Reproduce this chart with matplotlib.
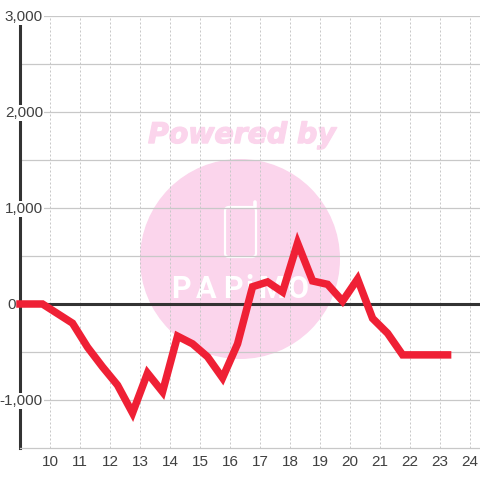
import matplotlib
matplotlib.use('AGG')
import matplotlib.pyplot as plt
import matplotlib.patheffects as pe
from matplotlib.patches import Circle, FancyBboxPatch

hours = [9.0, 9.75, 10.25, 10.75, 11.25, 11.75, 12.25, 12.75, 13.25, 13.75,
         14.25, 14.75, 15.25, 15.75, 16.25, 16.75, 17.25, 17.75, 18.25, 18.75,
         19.25, 19.75, 20.25, 20.75, 21.25, 21.75, 22.25, 22.75, 23.25]
values = [0, 0, -100, -200, -450, -655, -845, -1135, -720, -915,
          -335, -415, -550, -770, -415, 180, 230, 125, 635, 240,
          205, 30, 260, -150, -305, -530, -530, -530, -530]
x_ticks = [10, 11, 12, 13, 14, 15, 16, 17, 18, 19, 20, 21, 22, 23, 24]
y_major = [-1000, 0, 1000, 2000, 3000]
y_minor = [-500, 500, 1500, 2500]
y_labels = ['-1,000', '0', '1,000', '2,000', '3,000']
logo_letters = ['P', 'A', 'P', 'i', 'M', 'O']

plt.rcParams['font.family'] = ['Liberation Sans', 'DejaVu Sans']
fig = plt.figure(figsize=(4.8, 4.8), dpi=100)

# watermark sits in its own full size axes, in pixel units
wm = fig.add_axes([0, 0, 1, 1], zorder=0)
wm.set_xlim(0, 480)
wm.set_ylim(480, 0)
wm.axis('off')
pink = '#fbd5ec'
wm.add_patch(Circle((240, 259), 100, color=pink, lw=0))
wm.text(242, 135, 'Powered by', color=pink, fontsize=20.4, fontweight='bold',
        fontstyle='italic', family='DejaVu Sans', ha='center', va='center',
        path_effects=[pe.withStroke(linewidth=1, foreground=pink)])
wm.add_patch(FancyBboxPatch((225, 207), 31, 50, boxstyle='round,pad=0,rounding_size=4',
                            fc='none', ec='white', lw=1.6))
wm.plot([255, 255], [207, 202], color='white', lw=2.6, solid_capstyle='round')
for letter, px in zip(logo_letters, [181, 206, 233, 249, 271, 298]):
    wm.text(px, 289, letter, color='white', fontsize=22, fontweight='bold',
            family=['Liberation Sans Narrow', 'Roboto'], ha='center', va='center')

ax = fig.add_axes([20 / 480, 32 / 480, 460 / 480, 432 / 480], zorder=1)
ax.patch.set_alpha(0)
ax.set_xlim(9.0, 24.33)
ax.set_ylim(-1500, 3000)

ax.set_xticks(x_ticks)
ax.set_yticks(y_major)
ax.set_yticks(y_minor, minor=True)
ax.set_yticklabels([])
ax.tick_params(axis='both', which='both', length=0)
ax.tick_params(axis='x', labelsize=11, labelcolor='#404040', pad=5)

ax.grid(axis='x', color='#c8c8c8', lw=0.72, ls=(0, (2, 2)))
ax.grid(axis='y', which='both', color='#c8c8c8', lw=0.9)
ax.set_axisbelow(True)

for name in ['top', 'right']:
    ax.spines[name].set_visible(False)
ax.spines['bottom'].set_color('#c8c8c8')
ax.spines['bottom'].set_linewidth(0.9)
ax.spines['left'].set_color('#333333')
ax.spines['left'].set_linewidth(2.2)

ax.axhline(0, color='#333333', lw=2.2, zorder=3)

# y labels have a white box that breaks the axis line and the grid
for val, lab in zip(y_major, y_labels):
    off = -4 if val == 0 else 23
    ax.annotate(lab, (0, val), xycoords=ax.get_yaxis_transform(), xytext=(off, -1),
                textcoords='offset pixels', ha='right', va='center', fontsize=11,
                color='#404040', zorder=4, bbox=dict(fc='white', ec='none', pad=0.5))

ax.plot(hours, values, color='#ef2035', lw=5.4, solid_joinstyle='miter',
        solid_capstyle='projecting', clip_on=False, zorder=5)

plt.savefig('out.png', dpi=100)
